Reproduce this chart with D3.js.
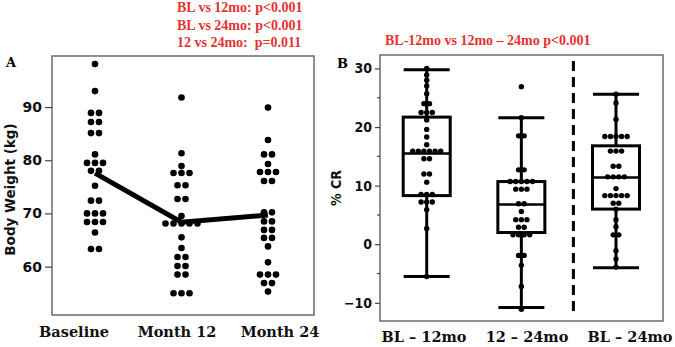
<!DOCTYPE html>
<html lang="en">
<head>
<meta charset="utf-8">
<title>Body weight and % CR</title>
<script src="https://cdn.jsdelivr.net/npm/d3@7/dist/d3.min.js"></script>
<style>
  body { margin: 0; background: #fff; }
  svg { display: block; }
</style>
</head>
<body>
<svg id="chart" width="675" height="347"></svg>
<script>
// ---- panel A data: body weight (kg) per visit
var visits = ["Baseline", "Month 12", "Month 24"];
var weightBaseline = [98.1, 93.0, 88.9, 88.9, 87.2, 87.2, 85.1, 85.1, 81.1, 79.5, 79.5, 79.5,
  78.0, 78.0, 75.2, 72.4, 72.4, 70.0, 70.0, 70.0, 68.4, 68.4, 68.4, 66.4, 63.3, 63.3];
var weightMonth12 = [91.8, 81.3, 78.9, 77.6, 77.6, 77.6, 75.3, 75.3, 72.7, 72.7, 69.5,
  68.1, 68.1, 68.1, 68.1, 68.1, 65.5, 63.5, 61.8, 61.8, 60.1, 60.1, 58.5, 58.5, 55.0, 55.0, 55.0];
var weightMonth24 = [89.9, 83.8, 81.1, 81.1, 79.3, 77.8, 77.8, 77.8, 76.1, 76.1, 70.2, 70.2,
  68.5, 68.5, 66.9, 66.9, 65.4, 65.4, 63.8, 60.8, 58.5, 58.5, 58.5, 56.9, 56.9, 55.3];
var weightTicks = [60, 70, 80, 90];

// ---- panel B data: % CR per interval
var intervals = ["BL \u2013 12mo", "12 \u2013 24mo", "BL \u2013 24mo"];
var crBL12 = [30.0, 28.9, 28.0, 27.0, 25.7, 24.0, 24.0, 22.5, 22.5, 22.5, 21.2, 19.6, 18.3, 17.0,
  15.9, 15.9, 15.9, 15.9, 15.9, 15.9, 14.6, 14.6, 12.0, 12.0, 10.6, 8.5, 8.5, 8.5, 7.2, 7.2, 7.2,
  5.9, 2.7, -5.5];
var cr1224 = [26.9, 21.6, 18.5, 18.5, 12.7, 12.7, 10.7, 10.7, 10.7, 10.7, 10.7, 9.4, 9.4, 9.4,
  6.9, 6.9, 5.6, 4.2, 4.2, 4.2, 2.9, 2.9, 1.6, 1.6, 1.6, 1.6, -1.9, -1.9, -3.6, -7.2, -11.1];
var crBL24 = [25.6, 24.1, 21.3, 18.4, 18.4, 18.4, 18.4, 18.4, 15.9, 15.9, 15.9, 13.3, 13.3,
  11.5, 11.5, 11.5, 11.5, 9.5, 8.3, 8.3, 8.3, 8.3, 8.3, 7.0, 7.0, 6.0, 4.2, 3.0, 1.6, 1.6,
  -1.1, -2.5, -3.9];
var whiskerHigh = [29.8, 21.6, 25.6];
var boxQ3 = [21.7, 10.7, 16.8];
var boxMedian = [15.5, 6.8, 11.4];
var boxQ1 = [8.3, 2.0, 6.0];
var whiskerLow = [-5.5, -10.8, -4.0];
var crTicks = [-10, 0, 10, 20, 30];
var crMinorTicks = [-5, 5, 15, 25];

var statsA = ["BL vs 12mo: p<0.001", "BL vs 24mo: p<0.001", "12 vs 24mo:\u00a0 p=0.011"];
var statB = "BL-12mo vs 12mo \u2013 24mo p<0.001";

var red = "#e5332f";
var serif = "'Liberation Serif', 'Times New Roman', serif";
var slab = "'DejaVu Serif', serif";
var sans = "'DejaVu Sans', sans-serif";
var narrow = "'DejaVu Sans Condensed', 'DejaVu Sans', sans-serif";

var svg = d3.select("#chart");

// stack equal values side by side, centred on the column
function swarm(values, cx, step) {
  var groups = d3.groups(values, d => d);
  var out = [];
  groups.forEach(function(g) {
    var n = g[1].length;
    g[1].forEach(function(v, i) {
      out.push({ v: v, x: cx + (i - (n - 1) / 2) * step });
    });
  });
  return out;
}

// ================= panel A =================
var a = { left: 52, top: 56, right: 314, bottom: 315 };
var xA = d3.scalePoint().domain(visits).range([95, 268]);
var xALabel = d3.scalePoint().domain(visits).range([74, 280]);
var yA = d3.scaleLinear().domain([50.9, 99.6]).range([a.bottom, a.top]);
var weights = [weightBaseline, weightMonth12, weightMonth24];

var gA = svg.append("g");

gA.append("rect")
  .attr("x", a.left).attr("y", a.top)
  .attr("width", a.right - a.left).attr("height", a.bottom - a.top)
  .attr("fill", "none").attr("stroke", "#6b6b6b").attr("stroke-width", 1.5);

var axisA = gA.append("g")
  .attr("transform", "translate(" + a.left + ",0)")
  .call(d3.axisLeft(yA).tickValues(weightTicks).tickSize(7).tickPadding(3));
axisA.select(".domain").remove();
axisA.selectAll("line").attr("stroke", "#444").attr("stroke-width", 1.2);
axisA.selectAll("text")
  .attr("font-family", sans).attr("font-weight", "bold").attr("font-size", 14)
  .attr("fill", "#111");

gA.append("text")
  .attr("transform", "translate(15," + ((a.top + a.bottom) / 2 + 4) + ") rotate(-90)")
  .attr("text-anchor", "middle")
  .attr("font-family", sans).attr("font-weight", "bold").attr("font-size", 13.5)
  .attr("fill", "#111")
  .text("Body Weight (kg)");

visits.forEach(function(v, i) {
  gA.selectAll(".dotA" + i)
    .data(swarm(weights[i], xA(v), 8))
    .enter().append("circle")
    .attr("cx", d => d.x).attr("cy", d => yA(d.v))
    .attr("r", 3.3).attr("fill", "#000");
});

var means = visits.map((v, i) => ({ k: v, m: d3.mean(weights[i]) }));
gA.append("path")
  .datum(means)
  .attr("d", d3.line().x(d => xA(d.k)).y(d => yA(d.m)))
  .attr("fill", "none").attr("stroke", "#000").attr("stroke-width", 5);

gA.selectAll(".xlabA")
  .data(visits)
  .enter().append("text")
  .attr("x", d => xALabel(d)).attr("y", 337)
  .attr("text-anchor", "middle")
  .attr("font-family", slab).attr("font-weight", "bold").attr("font-size", 14.5)
  .attr("fill", "#111")
  .text(d => d);

gA.append("text")
  .attr("x", 6).attr("y", 67)
  .attr("font-family", slab).attr("font-weight", "bold").attr("font-size", 13)
  .text("A");

gA.selectAll(".statA")
  .data(statsA)
  .enter().append("text")
  .attr("x", 177).attr("y", (d, i) => 12 + i * 17.5)
  .attr("font-family", serif).attr("font-weight", "bold").attr("font-size", 14)
  .attr("fill", red)
  .text(d => d);

// ================= panel B =================
var b = { left: 380, top: 55, right: 663, bottom: 321 };
var xB = d3.scaleLinear().domain([0, 2]).range([426.7, 616]);
var xBLabel = d3.scaleLinear().domain([0, 2]).range([424, 630]);
var yB = d3.scaleLinear().domain([-13.1, 32.3]).range([b.bottom, b.top]);
var crs = [crBL12, cr1224, crBL24];
var boxW = 47, capW = 46;

var gB = svg.append("g");

gB.append("rect")
  .attr("x", b.left).attr("y", b.top)
  .attr("width", b.right - b.left).attr("height", b.bottom - b.top)
  .attr("fill", "none").attr("stroke", "#6b6b6b").attr("stroke-width", 1.5);

var axisB = gB.append("g")
  .attr("transform", "translate(" + b.left + ",0)")
  .call(d3.axisLeft(yB).tickValues(crTicks).tickSize(5).tickPadding(3));
axisB.select(".domain").remove();
axisB.selectAll("line").attr("stroke", "#444").attr("stroke-width", 1.2);
axisB.selectAll("text")
  .attr("font-family", narrow).attr("font-stretch", "condensed")
  .attr("font-weight", "bold").attr("font-size", 14).attr("fill", "#111");

gB.selectAll(".minorB")
  .data(crMinorTicks)
  .enter().append("line")
  .attr("x1", b.left - 3).attr("x2", b.left)
  .attr("y1", d => yB(d)).attr("y2", d => yB(d))
  .attr("stroke", "#444").attr("stroke-width", 1.2);

gB.append("text")
  .attr("transform", "translate(341," + ((b.top + b.bottom) / 2) + ") rotate(-90)")
  .attr("text-anchor", "middle")
  .attr("font-family", narrow).attr("font-stretch", "condensed")
  .attr("font-weight", "bold").attr("font-size", 14).attr("fill", "#111")
  .text("% CR");

// dashed divider between the interval boxes and the overall box
gB.append("line")
  .attr("x1", xB(1.55)).attr("x2", xB(1.55))
  .attr("y1", b.top + 6).attr("y2", b.bottom - 9)
  .attr("stroke", "#000").attr("stroke-width", 3)
  .attr("stroke-dasharray", "10,6");

intervals.forEach(function(lab, i) {
  var cx = xB(i);
  var g = gB.append("g");
  g.append("line")
    .attr("x1", cx).attr("x2", cx)
    .attr("y1", yB(whiskerLow[i])).attr("y2", yB(whiskerHigh[i]))
    .attr("stroke", "#000").attr("stroke-width", 3);
  [whiskerLow[i], whiskerHigh[i]].forEach(function(w) {
    g.append("line")
      .attr("x1", cx - capW / 2).attr("x2", cx + capW / 2)
      .attr("y1", yB(w)).attr("y2", yB(w))
      .attr("stroke", "#000").attr("stroke-width", 3);
  });
  g.append("rect")
    .attr("x", cx - boxW / 2).attr("y", yB(boxQ3[i]))
    .attr("width", boxW).attr("height", yB(boxQ1[i]) - yB(boxQ3[i]))
    .attr("fill", "#fff").attr("stroke", "#000").attr("stroke-width", 3);
  g.append("line")
    .attr("x1", cx - boxW / 2).attr("x2", cx + boxW / 2)
    .attr("y1", yB(boxMedian[i])).attr("y2", yB(boxMedian[i]))
    .attr("stroke", "#000").attr("stroke-width", 2.5);
  g.selectAll("circle")
    .data(swarm(crs[i], cx, 5.6))
    .enter().append("circle")
    .attr("cx", d => d.x).attr("cy", d => yB(d.v))
    .attr("r", 2.7).attr("fill", "#000");
});

gB.selectAll(".xlabB")
  .data(intervals)
  .enter().append("text")
  .attr("x", (d, i) => xBLabel(i)).attr("y", 342)
  .attr("text-anchor", "middle")
  .attr("font-family", slab).attr("font-weight", "bold").attr("font-size", 14.5)
  .attr("fill", "#111")
  .text(d => d);

gB.append("text")
  .attr("x", 337).attr("y", 68)
  .attr("font-family", slab).attr("font-weight", "bold").attr("font-size", 13)
  .text("B");

gB.append("text")
  .attr("x", 385).attr("y", 45)
  .attr("font-family", serif).attr("font-weight", "bold").attr("font-size", 14)
  .attr("fill", red)
  .text(statB);
</script>
</body>
</html>
